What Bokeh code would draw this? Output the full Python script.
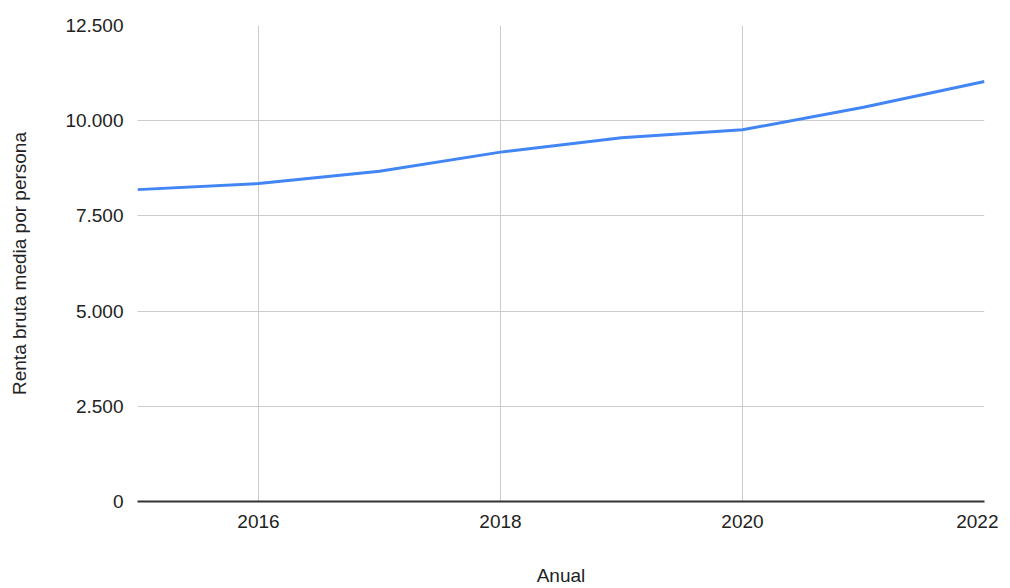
from bokeh.plotting import figure
from bokeh.models import Range1d, FixedTicker, CustomJSTickFormatter, ColumnDataSource
from bokeh.embed import file_html
from bokeh.resources import INLINE

years = [2015, 2016, 2017, 2018, 2019, 2020, 2021, 2022]
renta = [8190, 8350, 8675, 9175, 9550, 9760, 10355, 11030]
x_ticks = [2016, 2018, 2020, 2022]
y_ticks = [0, 2500, 5000, 7500, 10000, 12500]

FONT = "Liberation Sans"

p = figure(frame_width=847, frame_height=476,
           min_border_left=137, min_border_top=25, min_border_right=14, min_border_bottom=50,
           x_range=Range1d(2015, 2022), y_range=Range1d(0, 12500),
           output_backend="svg", toolbar_location=None)
p.outline_line_color = None

src = ColumnDataSource(dict(x=years, y=renta))
p.line("x", "y", source=src, line_color="#4285F4", line_width=3)

p.xaxis.ticker = FixedTicker(ticks=x_ticks)
p.yaxis.ticker = FixedTicker(ticks=y_ticks)
p.yaxis.formatter = CustomJSTickFormatter(
    code="return tick.toFixed(0).replace(/\\B(?=(\\d{3})+(?!\\d))/g, '.');")

for ax in (p.xaxis, p.yaxis):
    ax.major_tick_line_color = None
    ax.minor_tick_line_color = None
    ax.major_label_text_font = FONT
    ax.major_label_text_font_size = "19px"
    ax.major_label_text_color = "#222222"
    ax.axis_label_text_font = FONT
    ax.axis_label_text_font_size = "19px"
    ax.axis_label_text_font_style = "normal"
    ax.axis_label_text_color = "#222222"

p.yaxis.axis_line_color = None
p.yaxis.major_label_standoff = 8
p.yaxis.axis_label = "Renta bruta media por persona"
p.yaxis.axis_label_standoff = 32

p.xaxis.axis_line_color = "#333333"
p.xaxis.axis_line_width = 2
p.xaxis.major_label_standoff = 7
p.xaxis.axis_label = "Anual"
p.xaxis.axis_label_standoff = 34

p.xgrid.ticker = FixedTicker(ticks=x_ticks)
p.ygrid.ticker = FixedTicker(ticks=y_ticks)
p.grid.grid_line_color = "#cccccc"
p.grid.grid_line_width = 1

open("out.html", "w").write(file_html(p, INLINE))
